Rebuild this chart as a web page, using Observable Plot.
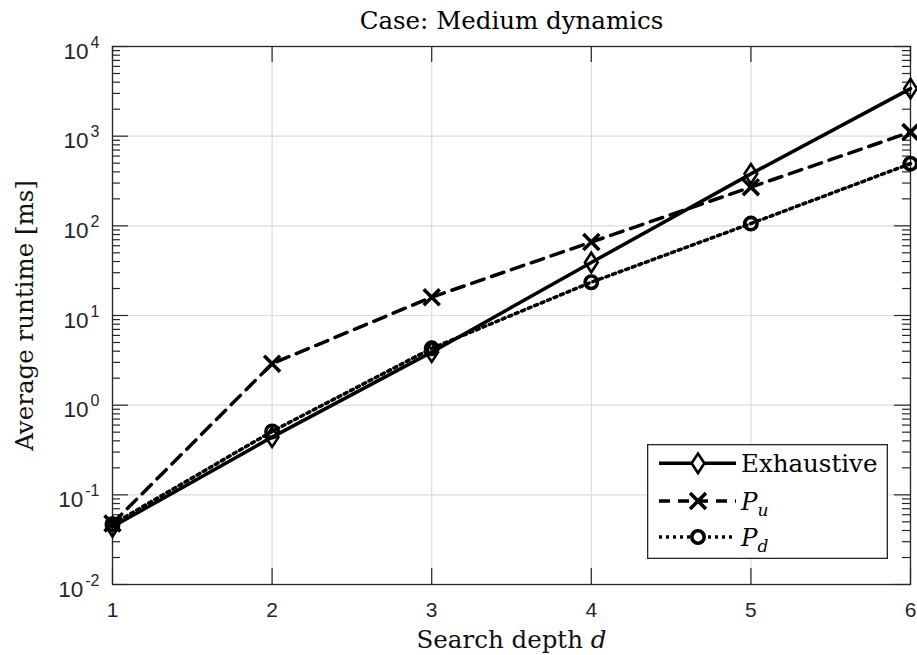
<!DOCTYPE html>
<html><head><meta charset="utf-8">
<script src="https://cdn.jsdelivr.net/npm/d3@7"></script>
<script src="https://cdn.jsdelivr.net/npm/@observablehq/plot@0.6"></script>
<style>
body{margin:0;background:#fff;}
#wrap{position:relative;width:917px;height:655px;overflow:hidden;}
</style></head><body><div id="wrap"></div>
<script>
// ---- data ----
const depth = [1, 2, 3, 4, 5, 6];
const exhaustive = [0.044, 0.44, 3.9, 39, 380, 3390];
const pu = [0.048, 2.9, 16, 66, 270, 1110];
const pd = [0.047, 0.51, 4.3, 23.5, 106, 494];
const seriesNames = ["Exhaustive", "P", "P"];
const seriesSubs = ["", "u", "d"];
const yDecades = [-2, -1, 0, 1, 2, 3, 4];
const xTicks = [1, 2, 3, 4, 5, 6];
const title = "Case: Medium dynamics";
const xLabel = "Search depth ";
const xLabelVar = "d";
const yLabel = "Average runtime [ms]";

// ---- layout ----
const W = 917, H = 655;
const mL = 112, mR = 7, mT = 46, mB = 71;
const FW = W - mL - mR, FH = H - mT - mB;
const axisColor = "#262626", gridColor = "#dcdcdc";
const serif = "DejaVu Serif", sans = "Liberation Sans";
const labelFont = 24.5, baseFont = 22.5, expFont = 16, xtFont = 21;
const LW3 = 3.5;
const dotted = "3,4";

const rows = (vals, s) => depth.map((d, i) => ({d, v: vals[i], s}));
const rE = rows(exhaustive, "E"), rU = rows(pu, "U"), rD = rows(pd, "D");

const majors = yDecades.map(e => Math.pow(10, e));
const minors = [];
for (const e of yDecades.slice(0, -1)) for (let k = 2; k <= 9; k++) minors.push(k * Math.pow(10, e));

const tallDiamond = {
  draw(ctx, size) {
    const r = Math.sqrt(size / Math.PI), w = r * 0.75, h = r * 1.15;
    ctx.moveTo(0, -h); ctx.lineTo(w, 0); ctx.lineTo(0, h); ctx.lineTo(-w, 0); ctx.closePath();
  }
};

const cv = document.createElement("canvas").getContext("2d");
const measure = (s, font) => { cv.font = font; return cv.measureText(s).width; };
const expW = s => measure(s, `${expFont}px "${sans}"`);
const tickFont = {fontFamily: sans, fill: axisColor, lineAnchor: "middle"};

// x label pieces
const w1 = measure(xLabel, `${labelFont}px "${serif}"`);
const w2 = measure(xLabelVar, `italic ${labelFont}px "${serif}"`);
const xlStart = -(w1 + w2) / 2;

const plot = Plot.plot({
  width: W, height: H,
  marginLeft: mL, marginRight: mR, marginTop: mT, marginBottom: mB,
  x: {type: "linear", domain: [1, 6], axis: null},
  y: {type: "log", domain: [0.01, 10000], axis: null},
  marks: [
    Plot.gridX(xTicks, {stroke: gridColor, strokeOpacity: 1, strokeWidth: 1.2}),
    Plot.gridY(majors, {stroke: gridColor, strokeOpacity: 1, strokeWidth: 1.2}),
    // ticks (inward)
    Plot.tickY(majors, {y: d => d, insetRight: FW - 16, stroke: axisColor, strokeWidth: 1.2}),
    Plot.tickY(majors, {y: d => d, insetLeft: FW - 16, stroke: axisColor, strokeWidth: 1.2}),
    Plot.tickY(minors, {y: d => d, insetRight: FW - 8, stroke: axisColor, strokeWidth: 1.2}),
    Plot.tickY(minors, {y: d => d, insetLeft: FW - 8, stroke: axisColor, strokeWidth: 1.2}),
    Plot.tickX(xTicks, {x: d => d, insetTop: FH - 16, stroke: axisColor, strokeWidth: 1.2}),
    Plot.tickX(xTicks, {x: d => d, insetBottom: FH - 16, stroke: axisColor, strokeWidth: 1.2}),
    Plot.frame({stroke: axisColor, strokeWidth: 1.3}),
    // tick labels
    Plot.text(xTicks, {x: d => d, frameAnchor: "bottom", dy: 25.3, text: d => String(d), fontSize: xtFont, ...tickFont}),
    Plot.text(yDecades, {y: e => Math.pow(10, e), frameAnchor: "left", textAnchor: "end",
      text: () => "10", fontSize: baseFont, ...tickFont, dy: 5,
      render(index, scales, values, dims, context, next) {
        const g = next(index, scales, values, dims, context);
        d3.select(g).selectAll("text").attr("transform", function(_, j) {
          const t = d3.select(this).attr("transform") || "";
          return t + ` translate(${-(13 + expW(String(yDecades[index[j]])) + 2)},0)`;
        });
        return g;
      }}),
    Plot.text(yDecades, {y: e => Math.pow(10, e), frameAnchor: "left", textAnchor: "end",
      dx: -13, dy: -4, text: e => String(e), fontSize: expFont, ...tickFont}),
    // title and axis labels
    Plot.text([title], {frameAnchor: "top", lineAnchor: "middle", textAnchor: "middle", dy: -25.5, text: d => d,
      fontSize: labelFont, fontFamily: serif, fill: "#000"}),
    Plot.text([xLabel], {frameAnchor: "bottom", lineAnchor: "middle", textAnchor: "start", dx: xlStart, dy: 56, text: d => d,
      fontSize: labelFont, fontFamily: serif, fill: "#111"}),
    Plot.text([xLabelVar], {frameAnchor: "bottom", lineAnchor: "middle", textAnchor: "start", dx: xlStart + w1, dy: 56, text: d => d,
      fontSize: labelFont, fontFamily: serif, fontStyle: "italic", fill: "#111"}),
    Plot.text([yLabel], {frameAnchor: "left", lineAnchor: "middle", textAnchor: "middle", rotate: -90, dx: 24.5 - mL, text: d => d,
      fontSize: labelFont, fontFamily: serif, fill: "#111"}),
    // series
    Plot.line(rE, {x: "d", y: "v", stroke: "black", strokeWidth: LW3}),
    Plot.line(rU, {x: "d", y: "v", stroke: "black", strokeWidth: LW3, strokeDasharray: "13,8"}),
    Plot.line(rD, {x: "d", y: "v", stroke: "black", strokeWidth: LW3, strokeDasharray: dotted}),
    Plot.dot(rE, {x: "d", y: "v", symbol: tallDiamond, r: 8.5, stroke: "black", strokeWidth: 2.6, fill: "none"}),
    Plot.dot(rU, {x: "d", y: "v", symbol: "times", r: 7.3, stroke: "black", strokeWidth: 3.6}),
    Plot.dot(rD, {x: "d", y: "v", symbol: "circle", r: 6.2, stroke: "black", strokeWidth: 3.6, fill: "none"})
  ]
});

const wrap = document.getElementById("wrap");
wrap.appendChild(plot);

// legend
const LX = 647, LY = 444, LW = 241, LH = 115;
const rowY = [19.3, 57, 93];
const lg = d3.create("svg").attr("width", LW).attr("height", LH)
  .style("position", "absolute").style("left", LX + "px").style("top", LY + "px");
lg.append("rect").attr("x", 0.65).attr("y", 0.65).attr("width", LW - 1.3).attr("height", LH - 1.3)
  .attr("fill", "white").attr("stroke", axisColor).attr("stroke-width", 1.3);
const dashes = [null, "11,8", dotted];
const syms = [tallDiamond, d3.symbolTimes, d3.symbolCircle];
const rs = [8.5, 7.3, 6.2], sws = [2.6, 3.6, 3.6];
seriesNames.forEach((name, i) => {
  const y = rowY[i];
  lg.append("line").attr("x1", 12).attr("x2", 89).attr("y1", y).attr("y2", y)
    .attr("stroke", "black").attr("stroke-width", LW3).attr("stroke-dasharray", dashes[i]);
  lg.append("path").attr("transform", `translate(51,${y})`)
    .attr("d", d3.symbol(syms[i], Math.PI * rs[i] * rs[i])())
    .attr("fill", i === 1 ? "none" : "white").attr("stroke", "black").attr("stroke-width", sws[i]);
  const t = lg.append("text").attr("x", 94).attr("y", y + 9)
    .attr("font-family", serif).attr("font-size", labelFont).attr("fill", "#000");
  if (seriesSubs[i]) {
    t.append("tspan").attr("font-style", "italic").text(name);
    t.append("tspan").attr("font-style", "italic").attr("font-size", 17).attr("dy", 6).text(seriesSubs[i]);
  } else t.text(name);
});
wrap.appendChild(lg.node());
</script></body></html>
